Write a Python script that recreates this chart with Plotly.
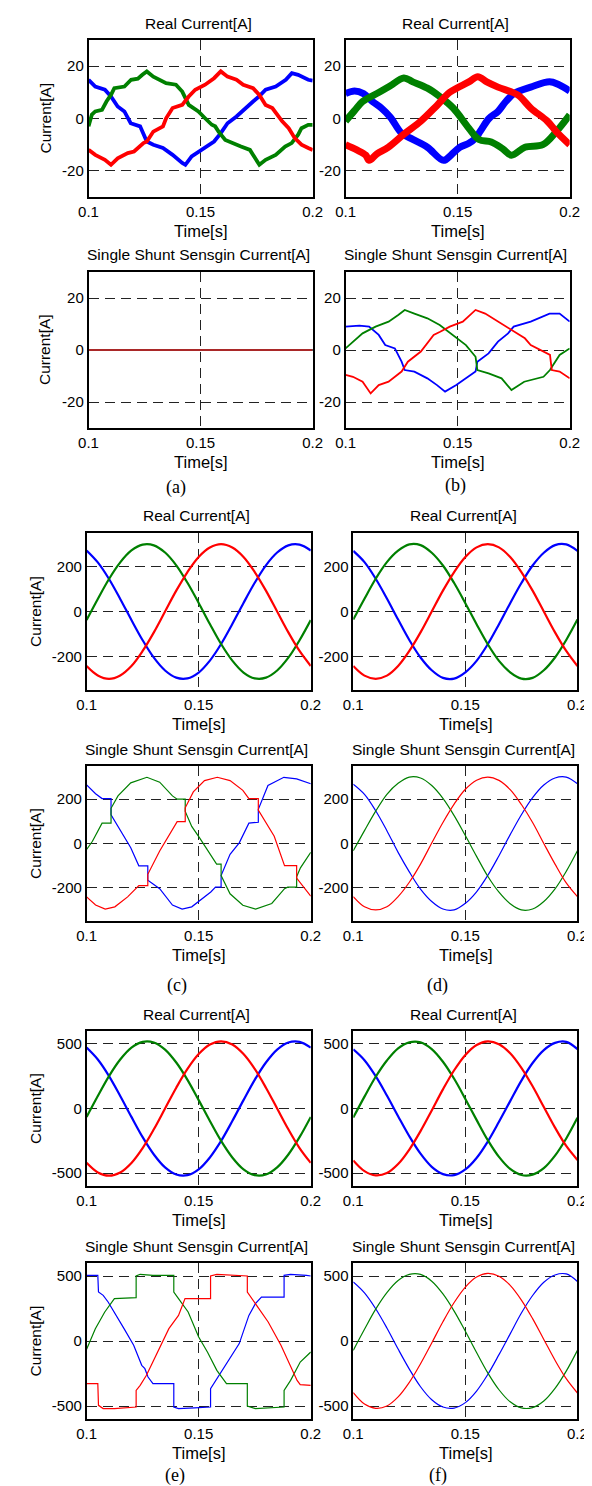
import plotly.graph_objects as go

# ---------------- DATA ----------------
T21 = [0.100, 0.105, 0.110, 0.115, 0.120, 0.125, 0.130, 0.135, 0.140, 0.145, 0.150,
       0.155, 0.160, 0.165, 0.170, 0.175, 0.180, 0.185, 0.190, 0.195, 0.200]

# (a) real current (scalloped, low current)
a_real_blue_t = [0.1000, 0.1030, 0.1073, 0.1100, 0.1130, 0.1160, 0.1188, 0.1230, 0.1260, 0.1289, 0.1332,
                 0.1375, 0.1418, 0.1432, 0.1460, 0.1520, 0.1560, 0.1590, 0.1620, 0.1660, 0.1690, 0.1734,
                 0.1760, 0.1790, 0.1835, 0.1880, 0.1907, 0.1935, 0.1980, 0.2000]
a_real_blue = [14.8, 12.2, 11.0, 8.4, 4.6, 2.7, -1.8, -3.0, -8.8, -10.0, -11.3,
               -13.9, -17.0, -17.7, -14.5, -11.3, -8.8, -5.6, -1.8, 0.8, 3.3, 6.5,
               8.4, 11.0, 12.2, 14.8, 17.3, 16.7, 14.8, 14.5]
a_real_green_t = [0.1000, 0.1015, 0.1030, 0.1060, 0.1080, 0.1100, 0.1115, 0.1160, 0.1190, 0.1220, 0.1240,
                  0.1260, 0.1289, 0.1318, 0.1346, 0.1390, 0.1418, 0.1447, 0.1490, 0.1520, 0.1550, 0.1565,
                  0.1580, 0.1610, 0.1640, 0.1680, 0.1720, 0.1762, 0.1790, 0.1835, 0.1877, 0.1906, 0.1935,
                  0.1950, 0.1980, 0.2000]
a_real_green = [-3.0, 1.5, 2.7, 3.3, 6.5, 9.0, 11.6, 12.2, 14.8, 15.2, 16.7,
                18.0, 16.0, 14.8, 13.5, 12.9, 10.3, 5.2, 2.7, 0.1, -2.4, -3.0,
                -5.0, -8.2, -9.4, -10.7, -12.0, -17.7, -15.8, -13.9, -10.7, -9.4, -6.2,
                -3.7, -2.4, -2.4]
a_real_red_t = [0.1000, 0.1030, 0.1073, 0.1100, 0.1130, 0.1175, 0.1203, 0.1245, 0.1260, 0.1289, 0.1332,
                0.1346, 0.1375, 0.1418, 0.1447, 0.1476, 0.1520, 0.1560, 0.1590, 0.1620, 0.1660, 0.1690,
                0.1734, 0.1762, 0.1790, 0.1820, 0.1864, 0.1893, 0.1920, 0.1950, 0.1980, 0.2000]
a_real_red = [-12.0, -13.9, -15.8, -17.7, -15.2, -13.2, -12.6, -9.4, -8.8, -5.0, -3.0,
              0.1, 4.0, 5.2, 8.4, 11.0, 12.9, 15.4, 18.0, 16.0, 14.8, 12.9,
              11.6, 9.0, 5.2, 4.0, -1.1, -3.7, -7.5, -10.0, -11.3, -12.0]

# (a) single shunt sensing current (all zero)
a_shunt_t = [0.1, 0.2]
a_shunt_blue = [0, 0]
a_shunt_green = [0, 0]
a_shunt_red = [0, 0]

# (b) real current (noisy)
b_real_blue_t = [0.100, 0.104, 0.108, 0.112, 0.116, 0.120, 0.125, 0.130, 0.1365, 0.1437, 0.147, 0.151,
                 0.155, 0.158, 0.160, 0.164, 0.168, 0.1715, 0.1754, 0.1826, 0.191, 0.195, 0.200]
b_real_blue = [9.5, 10.5, 9.5, 6.5, 4.0, 0.5, -5.6, -8.0, -11.0, -16.0, -14.0, -11.0,
               -9.5, -7.5, -5.0, 0.0, 2.7, 6.5, 9.7, 12.0, 14.0, 13.0, 10.5]
b_real_green_t = [0.100, 0.104, 0.1076, 0.115, 0.120, 0.126, 0.130, 0.1365, 0.142, 0.148, 0.155, 0.1595,
                  0.165, 0.170, 0.174, 0.180, 0.188, 0.194, 0.200]
b_real_green = [-1.0, 3.0, 6.5, 10.0, 12.5, 15.5, 14.0, 11.6, 8.4, 4.0, -3.7, -8.0,
                -9.0, -11.5, -14.0, -11.0, -10.0, -5.0, 1.4]
b_real_red_t = [0.100, 0.105, 0.109, 0.1105, 0.114, 0.119, 0.126, 0.1336, 0.1408, 0.1465, 0.155, 0.159,
                0.163, 0.168, 0.1768, 0.1826, 0.190, 0.194, 0.200]
b_real_red = [-10.0, -12.0, -14.0, -16.0, -13.5, -11.0, -6.0, -1.0, 5.0, 10.0, 14.0, 16.0,
              14.0, 12.0, 9.0, 4.0, -1.0, -5.0, -10.0]

# (b) single shunt sensing current
b_shunt_blue_t = [0.100, 0.1062, 0.1105, 0.1148, 0.1177, 0.122, 0.125, 0.1264, 0.1307, 0.1365, 0.1408,
                  0.1444, 0.1494, 0.1537, 0.1580, 0.1588, 0.1638, 0.168, 0.1725, 0.175, 0.1826, 0.191,
                  0.1955, 0.200]
b_shunt_blue = [9.0, 9.4, 9.0, 5.8, 1.9, 0.6, -4.5, -7.7, -8.3, -10.9, -13.5,
                -16.0, -13.5, -10.9, -8.3, -4.5, -1.3, 3.2, 6.4, 9.0, 10.9, 14.0,
                14.0, 10.9]
b_shunt_green_t = [0.100, 0.1048, 0.1076, 0.1134, 0.1192, 0.1235, 0.1264, 0.1307, 0.1365, 0.142, 0.1480,
                   0.1537, 0.1580, 0.1588, 0.1638, 0.1696, 0.174, 0.1797, 0.1883, 0.1912, 0.1926, 0.1955,
                   0.200]
b_shunt_green = [0.6, 4.5, 6.4, 9.0, 10.9, 13.5, 15.4, 14.0, 12.2, 9.6, 5.8,
                 1.9, -2.6, -7.7, -9.0, -10.9, -15.4, -12.2, -10.3, -7.7, -5.8, -1.9,
                 0.6]
b_shunt_red_t = [0.100, 0.1033, 0.1076, 0.1112, 0.1148, 0.1192, 0.125, 0.1278, 0.1336, 0.1393, 0.1422,
                 0.1465, 0.1523, 0.1580, 0.1623, 0.168, 0.1738, 0.180, 0.1826, 0.1883, 0.1912, 0.1920,
                 0.1955, 0.200]
b_shunt_red = [-9.6, -10.3, -12.2, -16.7, -13.5, -12.2, -8.3, -4.5, -0.6, 5.8, 7.0,
               9.0, 10.9, 15.4, 14.0, 10.9, 7.7, 4.5, 1.9, -0.6, -1.9, -7.7,
               -8.3, -10.9]

# (c) real current, amplitude ~300 A
c_real_blue = [272, 219, 145, 56, -38, -128, -206, -263, -295, -298, -272, -219, -145, -56, 38, 128, 206, 263, 295, 298, 272]
c_real_green = [-38, 56, 145, 219, 272, 298, 295, 263, 206, 128, 38, -56, -145, -219, -272, -298, -295, -263, -206, -128, -38]
c_real_red = [-243, -285, -300, -285, -243, -176, -93, 0, 93, 176, 243, 285, 300, 285, 243, 176, 93, 0, -93, -176, -243]

# (c) single shunt sensing current (held values and jumps)
c_shunt_blue_t = [0.1000, 0.1040, 0.1069, 0.1109, 0.1109, 0.1126, 0.1169, 0.1197, 0.1233, 0.1273, 0.1273,
                  0.1326, 0.1383, 0.1426, 0.1469, 0.1500, 0.1554, 0.1575, 0.1600, 0.1600, 0.1640, 0.1681,
                  0.1724, 0.1766, 0.1766, 0.1809, 0.1880, 0.1937, 0.2000]
c_shunt_blue = [265, 225, 203, 203, 130, 102, 33, -19, -101, -101, -166,
                -204, -278, -296, -286, -261, -219, -197, -197, -145, -49, 3,
                92, 96, 154, 262, 299, 292, 270]
c_shunt_green_t = [0.1000, 0.1026, 0.1069, 0.1109, 0.1109, 0.1140, 0.1197, 0.1269, 0.1326, 0.1383, 0.1404,
                   0.1440, 0.1440, 0.1469, 0.1504, 0.1554, 0.1580, 0.1600, 0.1600, 0.1640, 0.1697, 0.1754,
                   0.1826, 0.1883, 0.1897, 0.1937, 0.1937, 0.1954, 0.2000]
c_shunt_green = [-27, 10, 92, 92, 159, 215, 274, 299, 277, 215, 200,
                 200, 145, 77, 25, -49, -93, -93, -145, -227, -279, -296,
                 -271, -204, -197, -197, -150, -110, -40]
c_shunt_red_t = [0.1000, 0.1040, 0.1083, 0.1126, 0.1183, 0.1233, 0.1273, 0.1273, 0.1326, 0.1367, 0.1404,
                 0.1440, 0.1440, 0.1476, 0.1526, 0.1583, 0.1640, 0.1697, 0.1724, 0.1766, 0.1766, 0.1837,
                 0.1883, 0.1937, 0.1937, 0.2000]
c_shunt_red = [-241, -278, -296, -286, -241, -190, -190, -139, -34, 33, 99,
               99, 161, 233, 284, 299, 284, 240, 203, 203, 151, 33,
               -100, -100, -156, -238]

# (d) real and single shunt sensing current (amplitude ~300 A)
d_real_blue = [270, 220, 146, 58, -36, -127, -205, -262, -296, -299, -271, -220, -146, -57, 37, 127, 205, 262, 296, 299, 270]
d_real_green = [-36, 57, 146, 220, 271, 299, 296, 262, 205, 127, 37, -57, -146, -220, -271, -299, -296, -262, -205, -127, -36]
d_real_red = [-243, -286, -300, -286, -243, -176, -93, 0, 93, 176, 243, 286, 300, 286, 243, 176, 93, 0, -93, -176, -243]
d_shunt_blue = [268, 222, 148, 58, -40, -128, -206, -262, -296, -300, -270, -218, -144, -55, 40, 130, 207, 264, 296, 300, 270]
d_shunt_green = [-33, 58, 146, 222, 272, 300, 296, 262, 204, 126, 36, -58, -148, -220, -272, -300, -296, -262, -205, -126, -33]
d_shunt_red = [-240, -286, -300, -286, -240, -175, -93, 2, 95, 178, 245, 286, 300, 285, 243, 176, 95, 0, -93, -178, -240]

# (e) real current, amplitude ~520 A
e_real_blue = [471, 379, 251, 97, -65, -222, -356, -456, -511, -516, -471, -379, -251, -97, 65, 222, 356, 456, 511, 516, 471]
e_real_green = [-65, 97, 251, 379, 471, 516, 511, 456, 356, 222, 65, -97, -251, -379, -471, -516, -511, -456, -356, -222, -65]
e_real_red = [-421, -495, -520, -495, -421, -306, -161, 0, 161, 306, 421, 495, 520, 495, 421, 306, 161, 0, -161, -306, -421]

# (e) single shunt sensing current (clamped / stepped)
e_shunt_blue_t = [0.1000, 0.1050, 0.1053, 0.1074, 0.1096, 0.1124, 0.1167, 0.1210, 0.1246, 0.1260, 0.1274,
                  0.1296, 0.1389, 0.1389, 0.1410, 0.1481, 0.1553, 0.1553, 0.1581, 0.1639, 0.1681, 0.1724,
                  0.1753, 0.1780, 0.1881, 0.1881, 0.1910, 0.1981, 0.2000]
e_shunt_blue = [505, 505, 377, 351, 300, 223, 95, -33, -187, -213, -277,
                -328, -328, -508, -520, -515, -508, -367, -290, -136, -20, 197,
                287, 338, 338, 505, 513, 505, 500]
e_shunt_green_t = [0.1000, 0.1039, 0.1081, 0.1124, 0.1221, 0.1221, 0.1239, 0.1296, 0.1389, 0.1389, 0.1410,
                   0.1453, 0.1500, 0.1539, 0.1581, 0.1624, 0.1717, 0.1717, 0.1753, 0.1824, 0.1881, 0.1881,
                   0.1910, 0.1953, 0.2000]
e_shunt_green = [-64, 95, 223, 326, 333, 500, 513, 505, 505, 377, 326,
                 223, 31, -85, -226, -328, -328, -500, -520, -515, -508, -380,
                 -303, -162, -85]
e_shunt_red_t = [0.1000, 0.1050, 0.1053, 0.1074, 0.1124, 0.1221, 0.1221, 0.1239, 0.1267, 0.1324, 0.1367,
                 0.1410, 0.1439, 0.1553, 0.1553, 0.1581, 0.1667, 0.1717, 0.1717, 0.1753, 0.1810, 0.1867,
                 0.1910, 0.1939, 0.1953, 0.2000]
e_shunt_red = [-328, -328, -495, -520, -520, -508, -380, -341, -264, -59, 95,
               197, 326, 326, 500, 513, 505, 500, 377, 287, 146, -33,
               -200, -303, -336, -341]

# (f) real and single shunt sensing current, amplitude ~520 A
f_real_blue = [458, 374, 250, 100, -60, -215, -350, -452, -508, -516, -472, -383, -256, -103, 57, 216, 352, 452, 508, 516, 460]
f_real_green = [-70, 92, 246, 372, 466, 512, 512, 460, 362, 230, 74, -88, -245, -375, -468, -515, -512, -462, -365, -232, -72]
f_real_red = [-402, -485, -518, -500, -430, -318, -175, -15, 148, 296, 415, 492, 520, 498, 428, 315, 172, 12, -148, -290, -398]
f_shunt_blue = [454, 370, 248, 100, -62, -216, -352, -452, -508, -516, -474, -385, -258, -105, 55, 215, 350, 452, 508, 516, 458]
f_shunt_green = [-72, 90, 245, 372, 465, 512, 512, 460, 362, 230, 75, -88, -245, -375, -468, -515, -512, -462, -365, -232, -72]
f_shunt_red = [-397, -485, -518, -500, -430, -318, -175, -15, 148, 296, 415, 492, 520, 498, 428, 315, 172, 12, -148, -290, -400]

X_TICKS = [0.1, 0.15, 0.2]
X_TICKTEXT = ["0.1", "0.15", "0.2"]
Y_TICKS_SMALL = [-20, 0, 20]
Y_TICKS_MID = [-200, 0, 200]
Y_TICKS_BIG = [-500, 0, 500]
TITLE_REAL = "Real Current[A]"
TITLE_SHUNT = "Single Shunt Sensgin Current[A]"
XLABEL = "Time[s]"
YLABEL = "Current[A]"
PANEL_LABELS = ["(a)", "(b)", "(c)", "(d)", "(e)", "(f)"]

# ---------------- STYLE / LAYOUT ----------------
W, H = 592, 1486
BLUE, GREEN, RED = "rgb(0,0,255)", "rgb(0,128,0)", "rgb(255,0,0)"
SANS = "Liberation Sans, Arial, sans-serif"
SERIF = "Liberation Serif, Times New Roman, serif"

ROWS = [(32, 189), (264, 420), (525, 682), (758, 913), (1023, 1178), (1255, 1411)]
COLS_TOP = [(73, 305), (339, 571)]
COLS_BOT = [(71, 303), (347, 579)]


def S(t, y, color, width, shape="linear"):
    return dict(t=t, y=y, color=color, width=width, shape=shape)


panels = [
    (0, 0, 30, Y_TICKS_SMALL, TITLE_REAL, [
        S(a_real_blue_t, a_real_blue, BLUE, 3.8), S(a_real_green_t, a_real_green, GREEN, 3.8),
        S(a_real_red_t, a_real_red, RED, 3.8)]),
    (0, 1, 30, Y_TICKS_SMALL, TITLE_REAL, [
        S(b_real_blue_t, b_real_blue, BLUE, 7, "spline"), S(b_real_green_t, b_real_green, GREEN, 7, "spline"),
        S(b_real_red_t, b_real_red, RED, 7, "spline")]),
    (1, 0, 30, Y_TICKS_SMALL, TITLE_SHUNT, [
        S(a_shunt_t, a_shunt_blue, BLUE, 2.2), S(a_shunt_t, a_shunt_green, GREEN, 2.2),
        S(a_shunt_t, a_shunt_red, "rgb(170,40,40)", 1.8)]),
    (1, 1, 30, Y_TICKS_SMALL, TITLE_SHUNT, [
        S(b_shunt_blue_t, b_shunt_blue, BLUE, 1.8), S(b_shunt_green_t, b_shunt_green, GREEN, 1.8),
        S(b_shunt_red_t, b_shunt_red, RED, 1.8)]),
    (2, 0, 350, Y_TICKS_MID, TITLE_REAL, [
        S(T21, c_real_blue, BLUE, 2.2, "spline"), S(T21, c_real_green, GREEN, 2.2, "spline"),
        S(T21, c_real_red, RED, 2.2, "spline")]),
    (2, 1, 350, Y_TICKS_MID, TITLE_REAL, [
        S(T21, d_real_blue, BLUE, 2.2, "spline"), S(T21, d_real_green, GREEN, 2.2, "spline"),
        S(T21, d_real_red, RED, 2.2, "spline")]),
    (3, 0, 350, Y_TICKS_MID, TITLE_SHUNT, [
        S(c_shunt_blue_t, c_shunt_blue, BLUE, 1.2), S(c_shunt_green_t, c_shunt_green, GREEN, 1.2),
        S(c_shunt_red_t, c_shunt_red, RED, 1.2)]),
    (3, 1, 350, Y_TICKS_MID, TITLE_SHUNT, [
        S(T21, d_shunt_blue, BLUE, 1.2, "spline"), S(T21, d_shunt_green, GREEN, 1.2, "spline"),
        S(T21, d_shunt_red, RED, 1.2, "spline")]),
    (4, 0, 600, Y_TICKS_BIG, TITLE_REAL, [
        S(T21, e_real_blue, BLUE, 2.2, "spline"), S(T21, e_real_green, GREEN, 2.2, "spline"),
        S(T21, e_real_red, RED, 2.2, "spline")]),
    (4, 1, 600, Y_TICKS_BIG, TITLE_REAL, [
        S(T21, f_real_blue, BLUE, 2.2, "spline"), S(T21, f_real_green, GREEN, 2.2, "spline"),
        S(T21, f_real_red, RED, 2.2, "spline")]),
    (5, 0, 600, Y_TICKS_BIG, TITLE_SHUNT, [
        S(e_shunt_blue_t, e_shunt_blue, BLUE, 1.2), S(e_shunt_green_t, e_shunt_green, GREEN, 1.2),
        S(e_shunt_red_t, e_shunt_red, RED, 1.2)]),
    (5, 1, 600, Y_TICKS_BIG, TITLE_SHUNT, [
        S(T21, f_shunt_blue, BLUE, 1.2, "spline"), S(T21, f_shunt_green, GREEN, 1.2, "spline"),
        S(T21, f_shunt_red, RED, 1.2, "spline")]),
]

fig = go.Figure()
layout = dict(width=W, height=H, margin=dict(l=0, r=0, t=0, b=0),
              paper_bgcolor="white", plot_bgcolor="white", showlegend=False,
              font=dict(family=SANS, color="black"))
annotations = []


def px_x(x):
    return x / W


def px_y(y):
    return 1 - y / H


for i, (row, col, yr, yt, title, traces) in enumerate(panels, start=1):
    x0, x1 = (COLS_TOP if row < 2 else COLS_BOT)[col]
    y0, y1 = ROWS[row]
    xa = "x" if i == 1 else f"x{i}"
    ya = "y" if i == 1 else f"y{i}"
    axis_common = dict(showline=True, mirror=True, linecolor="black", linewidth=1.5,
                       showgrid=True, gridcolor="#222222", gridwidth=1, griddash="10px,6px",
                       zeroline=False, ticks="", tickfont=dict(size=15, family=SANS, color="black"))
    layout["xaxis" if i == 1 else f"xaxis{i}"] = dict(
        domain=[px_x(x0), px_x(x1)], range=[0.1, 0.2], anchor=ya,
        tickvals=X_TICKS, ticktext=X_TICKTEXT, **axis_common)
    layout["yaxis" if i == 1 else f"yaxis{i}"] = dict(
        domain=[px_y(y1), px_y(y0)], range=[-yr, yr], anchor=xa,
        tickvals=yt, ticktext=[str(v) for v in yt], **axis_common)
    for tr in traces:
        fig.add_trace(go.Scatter(x=tr["t"], y=tr["y"], mode="lines", xaxis=xa, yaxis=ya,
                                 line=dict(color=tr["color"], width=tr["width"], shape=tr["shape"]),
                                 hoverinfo="skip"))
    cx = (x0 + x1) / 2 - 2
    annotations.append(dict(text=title, x=px_x(cx), y=px_y(y0 - 17), xref="paper", yref="paper",
                            showarrow=False, xanchor="center", yanchor="middle",
                            font=dict(size=15.5, family=SANS, color="black")))
    annotations.append(dict(text=XLABEL, x=px_x(cx + 2), y=px_y(y1 + 34), xref="paper", yref="paper",
                            showarrow=False, xanchor="center", yanchor="middle",
                            font=dict(size=16.5, family=SANS, color="black")))
    if col == 0:
        annotations.append(dict(text=YLABEL, x=px_x(28 if row < 2 else 18), y=px_y((y0 + y1) / 2),
                                xref="paper", yref="paper", textangle=-90,
                                showarrow=False, xanchor="center", yanchor="middle",
                                font=dict(size=15.5, family=SANS, color="black")))

label_pos = [(164, 479), (453, 477), (165, 977), (434, 977), (163, 1467), (435, 1467)]
for lab, (lx, ly) in zip(PANEL_LABELS, label_pos):
    annotations.append(dict(text=lab, x=px_x(lx), y=px_y(ly), xref="paper", yref="paper",
                            showarrow=False, xanchor="center", yanchor="middle",
                            font=dict(size=18, family=SERIF, color="black")))

layout["annotations"] = annotations
fig.update_layout(**layout)
fig.write_html("out.html")
